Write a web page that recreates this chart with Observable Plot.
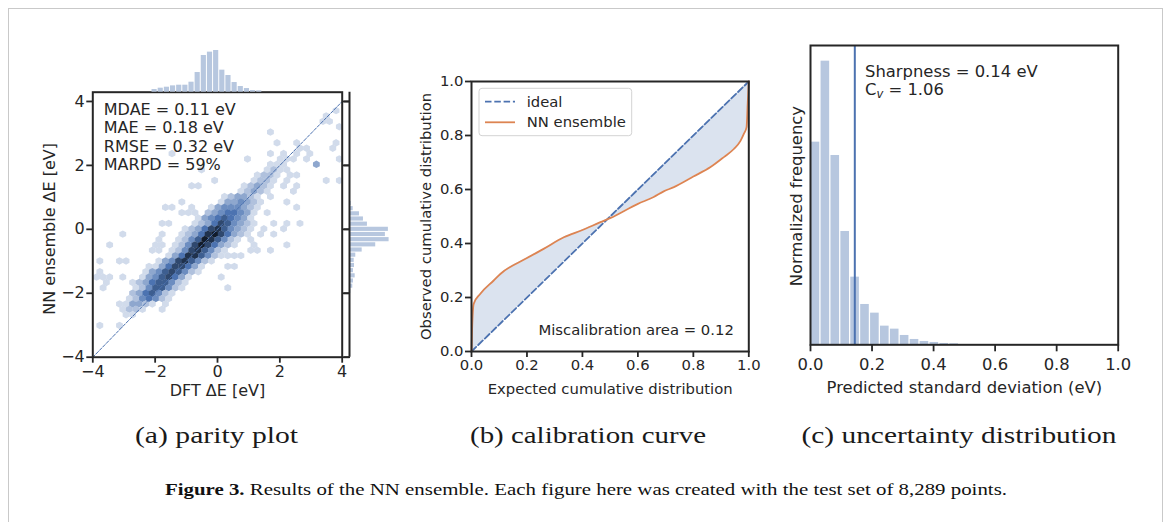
<!DOCTYPE html>
<html><head><meta charset="utf-8">
<script src="https://cdn.jsdelivr.net/npm/d3@7"></script>
<script src="https://cdn.jsdelivr.net/npm/@observablehq/plot@0.6"></script>
<style>
html,body{margin:0;padding:0;background:#fff;overflow:hidden}
#fig{position:relative;width:1166px;height:522px;background:#fff;overflow:hidden}
#border{position:absolute;left:8px;top:8px;width:1153px;height:560px;border:1.5px solid #c9c9c9}
</style></head>
<body><div id="fig"><div id="border"></div></div>
<script>
// ================= DATA =================
// (a) parity plot
const parityTicks = [-4, -2, 0, 2, 4];
const parityStats = ["MDAE = 0.11 eV", "MAE = 0.18 eV", "RMSE = 0.32 eV", "MARPD = 59%"];
const parityLine = [-4, 4];
const parityXLabel = "DFT ΔE [eV]";
const parityYLabel = "NN ensemble ΔE [eV]";
// hexbin grid: [column i, row j, density level 1..9]
const hexOrigin = [-3.775, -0.99];   // data centre of cell (0,0)
const hexStep = [0.2105, 0.168];     // column spacing in x, row spacing in y (odd rows shifted half a column)
const hexCells = [
 [36,28,1],[34,27,1],[34,26,1],[35,26,1],[36,25,1],[26,24,1],
 [27,22,1],[30,22,1],[36,22,1],[30,21,1],[31,21,1],[35,21,1],
 [11,20,1],[26,20,1],[28,20,1],[30,20,1],[32,20,1],
 [22,19,1],[27,19,1],[28,19,1],[29,19,1],[31,19,1],[36,19,1],
 [26,18,1],[27,18,1],[28,18,1],[33,18,3],
 [15,17,1],[25,17,1],[26,17,2],[27,17,1],[28,17,1],
 [24,16,1],[25,16,2],[26,16,2],[27,16,1],[29,16,1],[30,16,1],
 [17,15,1],[23,15,1],[24,15,2],[25,15,2],[26,15,1],[28,15,1],[34,15,1],[36,15,1],
 [14,14,1],[15,14,1],[22,14,1],[23,14,2],[24,14,3],[25,14,2],[26,14,1],[28,14,1],[30,14,1],
 [21,13,1],[22,13,2],[23,13,3],[24,13,2],[25,13,1],[29,13,1],
 [19,12,1],[20,12,2],[21,12,3],[22,12,3],[23,12,2],[24,12,1],[26,12,1],
 [12,11,1],[18,11,1],[19,11,3],[20,11,3],[21,11,4],[22,11,3],[23,11,2],[24,11,1],[28,11,1],
 [10,10,1],[11,10,1],[14,10,1],[17,10,1],[18,10,3],[19,10,4],[20,10,4],[21,10,4],[22,10,3],[23,10,2],[24,10,1],[30,10,1],
 [12,9,1],[13,9,1],[14,9,1],[16,9,2],[17,9,3],[18,9,4],[19,9,5],[20,9,5],[21,9,4],[22,9,3],[23,9,1],[25,9,1],
 [15,8,1],[16,8,3],[17,8,4],[18,8,5],[19,8,6],[20,8,5],[21,8,4],[22,8,3],[23,8,1],
 [9,7,1],[10,7,1],[14,7,1],[15,7,2],[16,7,3],[17,7,5],[18,7,7],[19,7,6],[20,7,4],[21,7,3],[22,7,2],[23,7,1],[26,7,1],[28,7,1],[30,7,1],
 [13,6,1],[14,6,2],[15,6,3],[16,6,5],[17,6,7],[18,6,8],[19,6,6],[20,6,4],[21,6,3],[22,6,2],[23,6,1],[25,6,1],[28,6,1],
 [3,5,1],[9,5,1],[12,5,1],[13,5,2],[14,5,3],[15,5,5],[16,5,8],[17,5,9],[18,5,7],[19,5,5],[20,5,3],[21,5,2],[22,5,1],[24,5,1],[26,5,1],
 [9,4,1],[12,4,1],[13,4,2],[14,4,4],[15,4,6],[16,4,9],[17,4,8],[18,4,6],[19,4,4],[20,4,2],[21,4,1],[23,4,1],
 [1,3,1],[8,3,1],[9,3,1],[11,3,1],[12,3,2],[13,3,4],[14,3,7],[15,3,9],[16,3,7],[17,3,5],[18,3,3],[19,3,2],[20,3,1],[23,3,1],[28,3,1],
 [8,2,1],[9,2,1],[11,2,1],[12,2,2],[13,2,4],[14,2,7],[15,2,8],[16,2,6],[17,2,4],[18,2,2],[19,2,1],[23,2,1],[24,2,1],[26,2,1],
 [10,1,1],[11,1,3],[12,1,5],[13,1,8],[14,1,8],[15,1,6],[16,1,4],[17,1,2],[18,1,1],[19,1,1],[20,1,1],[21,1,1],
 [0,0,1],[3,0,1],[4,0,1],[9,0,1],[10,0,3],[11,0,4],[12,0,7],[13,0,8],[14,0,6],[15,0,4],[16,0,2],[17,0,1],
 [7,-1,1],[8,-1,1],[9,-1,3],[10,-1,5],[11,-1,7],[12,-1,7],[13,-1,5],[14,-1,3],[15,-1,1],[19,-1,1],[20,-1,1],
 [0,-2,1],[7,-2,1],[8,-2,3],[9,-2,4],[10,-2,6],[11,-2,7],[12,-2,6],[13,-2,4],[14,-2,2],[15,-2,1],
 [-1,-3,1],[0,-3,1],[1,-3,1],[3,-3,1],[6,-3,1],[7,-3,3],[8,-3,4],[9,-3,6],[10,-3,7],[11,-3,5],[12,-3,3],[13,-3,1],[18,-3,1],
 [1,-4,1],[5,-4,1],[6,-4,2],[7,-4,3],[8,-4,5],[9,-4,6],[10,-4,6],[11,-4,4],[12,-4,2],[13,-4,1],
 [0,-5,1],[5,-5,1],[6,-5,2],[7,-5,4],[8,-5,6],[9,-5,6],[10,-5,4],[11,-5,2],[12,-5,1],[19,-5,1],
 [5,-6,2],[6,-6,3],[7,-6,5],[8,-6,6],[9,-6,4],[10,-6,2],[11,-6,1],
 [4,-7,1],[5,-7,2],[6,-7,4],[7,-7,5],[8,-7,4],[9,-7,2],[10,-7,1],
 [3,-8,1],[4,-8,1],[5,-8,3],[6,-8,3],[7,-8,2],[8,-8,1],[10,-8,1],
 [3,-9,1],[4,-9,2],[5,-9,2],[6,-9,1],[9,-9,1],
 [4,-10,1],[5,-10,1],[0,-12,1],[3,-12,1]
];
// marginal histograms (counts)
const topHistStart = -2.117, topHistWidth = 0.1975;
const topHistCounts = [92,138,172,218,241,241,344,677,1263,1378,1435,758,574,333,195,126,57,46];
const sideHistStart = -2.02, sideHistWidth = 0.1616;
const sideHistCounts = [45,113,137,195,137,172,161,216,436,902,1362,1235,1338,617,480,343,127,58,24];

// (b) calibration curve
const calibTicks = [0, 0.2, 0.4, 0.6, 0.8, 1.0];
const calibExpected = [0,0.002,0.006,0.008,0.032,0.08,0.105,0.2,0.26,0.333,0.4,0.465,0.5,0.6,0.657,0.693,0.73,0.8,0.862,0.91,0.946,0.97,0.982,0.992,0.996,1.0];
const calibObserved = [0,0.078,0.164,0.177,0.214,0.263,0.288,0.346,0.38,0.423,0.45,0.479,0.494,0.547,0.572,0.593,0.609,0.648,0.683,0.72,0.75,0.78,0.806,0.831,0.917,1.0];
const calibIdeal = [0, 1];
const calibArea = "Miscalibration area = 0.12";
const legendLabels = ["ideal", "NN ensemble"];
const calibXLabel = "Expected cumulative distribution";
const calibYLabel = "Observed cumulative distribution";

// (c) uncertainty distribution
const stdTicks = [0, 0.2, 0.4, 0.6, 0.8, 1.0];
const stdBinWidth = 0.0322;
const stdFreq = [6.08,8.51,5.68,3.40,2.03,1.21,0.95,0.56,0.47,0.28,0.16,0.10,0.07,0.04,0.03];
const sharpness = 0.144;
const sharpText = "Sharpness = 0.14 eV";
const cvText = ["C", "v", " = 1.06"];
const stdXLabel = "Predicted standard deviation (eV)";
const stdYLabel = "Normalized frequency";

// captions
const subCaptions = ["(a) parity plot", "(b) calibration curve", "(c) uncertainty distribution"];
const figCaptionBold = "Figure 3.";
const figCaptionRest = " Results of the NN ensemble. Each figure here was created with the test set of 8,289 points.";

// ================= STYLE =================
const INK = "#262626", BLUE = "#4c72b0", ORANGE = "#dd8452", HISTC = "#b7c7df", FILLC = "#dbe3ef";
const fig = document.getElementById("fig");

function makePlot(box, frame, opts) {
  const [L, T, R, B] = box, [x0, y0, x1, y1] = frame;
  const {style = {}, ...rest} = opts;
  const svg = Plot.plot({
    width: R - L, height: B - T,
    marginLeft: x0 - L, marginTop: y0 - T, marginRight: R - x1, marginBottom: B - y1,
    ...rest,
    style: Object.assign({background: "transparent", color: INK, fontFamily: "'DejaVu Sans', sans-serif",
      fontSize: "16px", overflow: "visible", position: "absolute", left: L + "px", top: T + "px", maxWidth: "none"}, style)
  });
  fig.appendChild(svg);
  return svg;
}

// ================= (a) PARITY =================
const hexSymbol = {draw(ctx) {
  const a = 3.42, b = 3.72;
  ctx.moveTo(0, -b); ctx.lineTo(a, -b / 2); ctx.lineTo(a, b / 2);
  ctx.lineTo(0, b); ctx.lineTo(-a, b / 2); ctx.lineTo(-a, -b / 2); ctx.closePath();
}};
const hexes = hexCells.map(([i, j, level]) => ({
  x: hexOrigin[0] + hexStep[0] * (i + ((j & 1) ? 0.5 : 0)),
  y: hexOrigin[1] + hexStep[1] * j,
  level
}));

makePlot([30, 40, 370, 410], [92.3, 91.7, 341.7, 356.7], {
  x: {domain: [-4, 4], axis: null},
  y: {domain: [-4, 4.29], axis: null},
  color: {type: "linear", domain: [1, 9], range: [d3.hsl(217, 0.40, 0.87).formatHex(), d3.hsl(217, 0.40, 0.12).formatHex()], interpolate: "hsl"},
  marks: [
    Plot.dot(hexes, {x: "x", y: "y", fill: "level", symbol: hexSymbol, r: 3, clip: true}),
    Plot.line(parityLine.map(v => ({x: v, y: v})), {x: "x", y: "y", stroke: BLUE, strokeWidth: 1, strokeDasharray: "3.2,1.6"}),
    Plot.frame({stroke: INK, strokeWidth: 2}),
    Plot.axisX({ticks: parityTicks, tickSize: 6, tickPadding: 2.5, strokeWidth: 1.8, fontSize: 16, label: null}),
    Plot.axisY({ticks: parityTicks, tickSize: 6, tickPadding: 2, strokeWidth: 1.8, fontSize: 16, label: null}),
    Plot.axisY({anchor: "right", ticks: parityTicks, tickSize: 7.3, strokeWidth: 1.8, tickFormat: () => "", label: null}),
    Plot.text([parityStats.join("\n")], {frameAnchor: "top-left", dx: 11, dy: 9.6, lineAnchor: "top", lineHeight: 1.15, fontSize: 16, textAnchor: "start", fill: INK}),
    Plot.text([parityXLabel], {frameAnchor: "bottom", dy: 33.2, lineAnchor: "middle", textAnchor: "middle", fontSize: 16, fill: INK}),
    Plot.text([parityYLabel], {frameAnchor: "left", dx: -42.8, dy: 4.1, rotate: -90, lineAnchor: "middle", textAnchor: "middle", fontSize: 16, fill: INK})
  ]
});

// top marginal histogram
makePlot([60, 30, 370, 95], [92.3, 48.1, 341.7, 91.7], {
  x: {domain: [-4, 4], axis: null},
  y: {domain: [0, 1500], axis: null},
  marks: [
    Plot.rectY(topHistCounts.map((c, k) => ({x1: topHistStart + k * topHistWidth, x2: topHistStart + (k + 1) * topHistWidth, c})),
      {x1: "x1", x2: "x2", y: "c", fill: HISTC, insetLeft: 0.5, insetRight: 0.5})
  ]
});

// right marginal histogram
makePlot([340, 85, 400, 365], [349, 91.7, 392.6, 356.7], {
  x: {domain: [0, 1500], axis: null},
  y: {domain: [-4, 4.29], axis: null},
  marks: [
    Plot.rectX(sideHistCounts.map((c, k) => ({y1: sideHistStart + k * sideHistWidth, y2: sideHistStart + (k + 1) * sideHistWidth, c})),
      {y1: "y1", y2: "y2", x: "c", fill: HISTC, insetTop: 0.5, insetBottom: 0.5}),
    Plot.ruleX([0], {stroke: INK, strokeWidth: 2}),
    Plot.axisY({ticks: parityTicks, tickSize: 5.3, strokeWidth: 1.8, tickFormat: () => "", label: null})
  ]
});

// ================= (b) CALIBRATION =================
const calib = calibExpected.map((e, k) => ({e, o: calibObserved[k]}));
function calibLegend(index, scales, values, dims) {
  const g = d3.create("svg:g");
  const fx = dims.marginLeft, fy = dims.marginTop;
  g.append("rect").attr("x", fx + 8).attr("y", fy + 7.3).attr("width", 152.7).attr("height", 47.4)
    .attr("rx", 3).attr("fill", "#fff").attr("fill-opacity", 0.85).attr("stroke", "#d3d3d3").attr("stroke-width", 1);
  const rows = [{dash: "6.5,2.8", color: BLUE, dy: 20.7}, {dash: null, color: ORANGE, dy: 41.3}];
  rows.forEach((r, k) => {
    g.append("line").attr("x1", fx + 14).attr("x2", fx + 44).attr("y1", fy + r.dy).attr("y2", fy + r.dy)
      .attr("stroke", r.color).attr("stroke-width", 1.8).attr("stroke-dasharray", r.dash);
    g.append("text").attr("x", fx + 55.7).attr("y", fy + r.dy).attr("dy", "0.35em").attr("text-anchor", "start")
      .attr("fill", INK).attr("font-size", 14.8).text(legendLabels[k]);
  });
  return g.node();
}
makePlot([400, 70, 760, 405], [471, 81, 748.3, 351], {
  style: {fontSize: "14.8px"},
  x: {domain: [0, 1], axis: null},
  y: {domain: [0, 1], axis: null},
  marks: [
    Plot.areaY(calib, {x: "e", y1: "e", y2: "o", fill: FILLC, curve: "monotone-x"}),
    Plot.line(calibIdeal.map(v => ({x: v, y: v})), {x: "x", y: "y", stroke: BLUE, strokeWidth: 1.8, strokeDasharray: "6.5,2.8"}),
    Plot.line(calib, {x: "e", y: "o", stroke: ORANGE, strokeWidth: 1.8, curve: "monotone-x"}),
    Plot.frame({stroke: INK, strokeWidth: 2}),
    Plot.axisX({ticks: calibTicks, tickFormat: d3.format(".1f"), tickSize: 6, tickPadding: 1.5, strokeWidth: 1.8, fontSize: 14.8, label: null}),
    Plot.axisY({ticks: calibTicks, tickFormat: d3.format(".1f"), tickSize: 6, tickPadding: 2, strokeWidth: 1.8, fontSize: 14.8, label: null}),
    Plot.text([calibArea], {frameAnchor: "bottom-right", dx: -15, dy: -21.7, lineAnchor: "middle", textAnchor: "end", fontSize: 14.8, fill: INK}),
    calibLegend,
    Plot.text([calibXLabel], {frameAnchor: "bottom", dy: 37.6, lineAnchor: "middle", textAnchor: "middle", fontSize: 14.8, fill: INK}),
    Plot.text([calibYLabel], {frameAnchor: "left", dx: -45, dy: 0, rotate: -90, lineAnchor: "middle", textAnchor: "middle", fontSize: 14.8, fill: INK})
  ]
});

// ================= (c) UNCERTAINTY =================
function sharpNote(index, scales, values, dims) {
  const g = d3.create("svg:g").attr("fill", INK).attr("font-size", 16.4).attr("text-anchor", "start");
  const fx = dims.marginLeft, fy = dims.marginTop;
  g.append("text").attr("x", fx + 55).attr("y", fy + 31.7).text(sharpText);
  const t = g.append("text").attr("x", fx + 55).attr("y", fy + 50);
  t.append("tspan").text(cvText[0]);
  t.append("tspan").attr("font-style", "italic").attr("font-size", 11.5).attr("dy", 3).text(cvText[1]);
  t.append("tspan").attr("dy", -3).text(cvText[2]);
  return g.node();
}
makePlot([760, 35, 1140, 400], [810, 45, 1117.7, 344.3], {
  style: {fontSize: "16.4px"},
  x: {domain: [0, 1], axis: null},
  y: {domain: [0, 8.98], axis: null},
  marks: [
    Plot.rectY(stdFreq.map((f, k) => ({x1: k * stdBinWidth, x2: (k + 1) * stdBinWidth, f})),
      {x1: "x1", x2: "x2", y: "f", fill: HISTC, insetLeft: 0.65, insetRight: 0.65}),
    Plot.ruleX([sharpness], {stroke: BLUE, strokeWidth: 2}),
    Plot.frame({stroke: INK, strokeWidth: 2}),
    Plot.axisX({ticks: stdTicks, tickFormat: d3.format(".1f"), tickSize: 7, tickPadding: 7, strokeWidth: 1.8, fontSize: 16.4, label: null}),
    sharpNote,
    Plot.text([stdXLabel], {frameAnchor: "bottom", dy: 42.7, lineAnchor: "middle", textAnchor: "middle", fontSize: 16.4, fill: INK}),
    Plot.text([stdYLabel], {frameAnchor: "left", dx: -14, dy: 1, rotate: -90, lineAnchor: "middle", textAnchor: "middle", fontSize: 16.4, fill: INK})
  ]
});

// ================= CAPTIONS =================
const capLayout = [[216.5, 163], [588, 236], [959, 315]];
const cap = d3.select(fig).append("svg").attr("width", 1166).attr("height", 522)
  .style("position", "absolute").style("left", "0px").style("top", "0px");
subCaptions.forEach((s, k) => {
  cap.append("text").attr("x", capLayout[k][0]).attr("y", 443).attr("text-anchor", "middle")
    .attr("font-family", "'Liberation Serif', serif").attr("font-size", 24).attr("fill", "#1a1a1a")
    .attr("textLength", capLayout[k][1]).attr("lengthAdjust", "spacingAndGlyphs").text(s);
});
const fc = cap.append("text").attr("x", 165).attr("y", 495)
  .attr("font-family", "'Liberation Serif', serif").attr("font-size", 17.5).attr("fill", "#111")
  .attr("textLength", 842).attr("lengthAdjust", "spacingAndGlyphs");
fc.append("tspan").attr("font-weight", "bold").text(figCaptionBold);
fc.append("tspan").text(figCaptionRest);
</script>
</body></html>
